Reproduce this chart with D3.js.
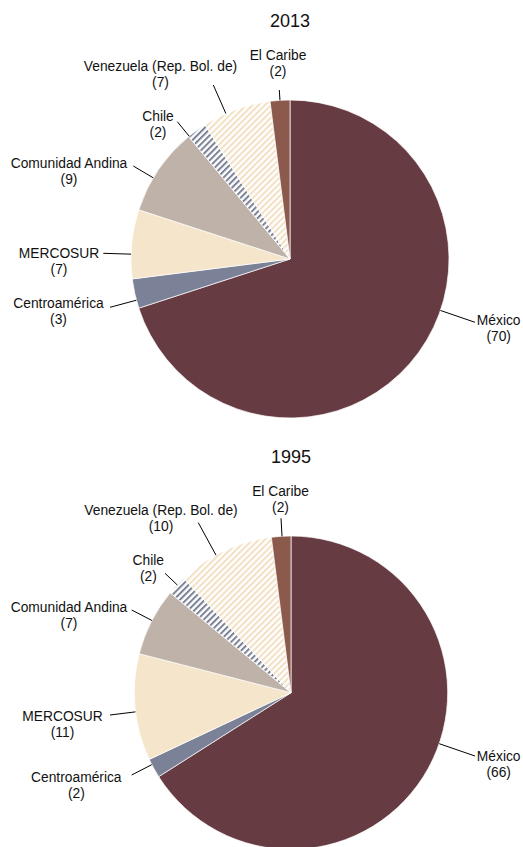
<!DOCTYPE html>
<html>
<head>
<meta charset="utf-8">
<script src="https://cdn.jsdelivr.net/npm/d3@7"></script>
<style>
  body { margin: 0; background: #fff; }
  svg { display: block; font-family: "Liberation Sans", Arial, sans-serif; }
</style>
</head>
<body>
<div class="container"></div>
<script>
const regions = ["México", "Centroamérica", "MERCOSUR", "Comunidad Andina", "Chile", "Venezuela (Rep. Bol. de)", "El Caribe"];
const shares2013 = [70, 3, 7, 9, 2, 7, 2];
const shares1995 = [66, 2, 11, 7, 2, 10, 2];
const years = ["2013", "1995"];

const w = 523;
const h = 847;

// label text spot + leader start, relative to pie centre
const labelPos2013 = [[208.7, 66, 185, 63.3], [-231.5, 49, -180, 48.3], [-231, -0.7, -186.7, -5.7],
  [-221, -90.7, -156.7, -93], [-132, -138, -112.7, -137.3], [-129.5, -188, -76.7, -174], [-12, -199, -10.7, -169]];
const labelPos1995 = [[207.7, 68.3, 184, 63.3], [-214.7, 89, -159.3, 82.3], [-228.5, 28.3, -181, 22.3],
  [-222, -80.7, -159.3, -82.7], [-142.7, -127.7, -126, -119.4], [-130, -177.7, -92.7, -170], [-10.5, -196.7, -10, -174.4]];

const charts = [
  {year: years[0], values: shares2013, cx: 290, cy: 259, r: 159, titleY: 26.5, labels: labelPos2013},
  {year: years[1], values: shares1995, cx: 291, cy: 692.7, r: 156.7, titleY: 462.5, labels: labelPos1995}
];

const svg = d3.select(".container")
  .append("svg")
  .attr("width", w)
  .attr("height", h);

const defs = svg.append("defs");
const addStripes = function(id, color) {
  const p = defs.append("pattern")
    .attr("id", id)
    .attr("patternUnits", "userSpaceOnUse")
    .attr("width", 4.4)
    .attr("height", 4.4)
    .attr("patternTransform", "rotate(45)");
  p.append("rect").attr("width", 4.4).attr("height", 4.4).attr("fill", "#fff");
  p.append("line")
    .attr("x1", 1).attr("y1", 0).attr("x2", 1).attr("y2", 4.4)
    .attr("stroke", color)
    .attr("stroke-width", 2);
};
addStripes("stripeChile", "#7b8196");
addStripes("stripeVen", "#f3e0c2");

const color = d3.scaleOrdinal()
  .domain(regions)
  .range(["#663c42", "#7b8196", "#f5e5ca", "#bfb2a8", "url(#stripeChile)", "url(#stripeVen)", "#8b5a4d"]);

const pie = d3.pie().sort(null).value((d) => d.v);

charts.forEach((c) => {
  const data = regions.map((name, i) => ({name: name, v: c.values[i], lab: c.labels[i]}));
  const arcs = pie(data);
  const arc = d3.arc().innerRadius(0).outerRadius(c.r);

  svg.append("text")
    .attr("x", c.cx)
    .attr("y", c.titleY)
    .attr("text-anchor", "middle")
    .attr("font-size", 18)
    .attr("fill", "#111")
    .text(c.year);

  const g = svg.append("g")
    .attr("transform", "translate(" + c.cx + "," + c.cy + ")");

  g.selectAll("path")
    .data(arcs)
    .enter()
    .append("path")
    .attr("d", arc)
    .attr("fill", (d) => color(d.data.name))
    .attr("stroke", "#fff")
    .attr("stroke-width", 0.7);

  // leader lines: from label toward centre, stopping on the rim inside the slice
  g.selectAll("line.leader")
    .data(arcs)
    .enter()
    .append("line")
    .attr("class", "leader")
    .attr("x1", (d) => d.data.lab[2])
    .attr("y1", (d) => d.data.lab[3])
    .each(function(d) {
      let a = Math.atan2(d.data.lab[2], -d.data.lab[3]);
      if (a < 0) a += 2 * Math.PI;
      a = Math.max(d.startAngle, Math.min(d.endAngle, a));
      d3.select(this)
        .attr("x2", c.r * Math.sin(a))
        .attr("y2", -c.r * Math.cos(a));
    })
    .attr("stroke", "#000")
    .attr("stroke-width", 1);

  const labels = g.selectAll("text.lbl")
    .data(arcs)
    .enter()
    .append("text")
    .attr("class", "lbl")
    .attr("text-anchor", "middle")
    .attr("font-size", 13.8)
    .attr("fill", "#111");
  labels.append("tspan")
    .attr("x", (d) => d.data.lab[0])
    .attr("y", (d) => d.data.lab[1])
    .text((d) => d.data.name);
  labels.append("tspan")
    .attr("x", (d) => d.data.lab[0])
    .attr("y", (d) => d.data.lab[1] + 16)
    .text((d) => "(" + d.data.v + ")");
});
</script>
</body>
</html>
